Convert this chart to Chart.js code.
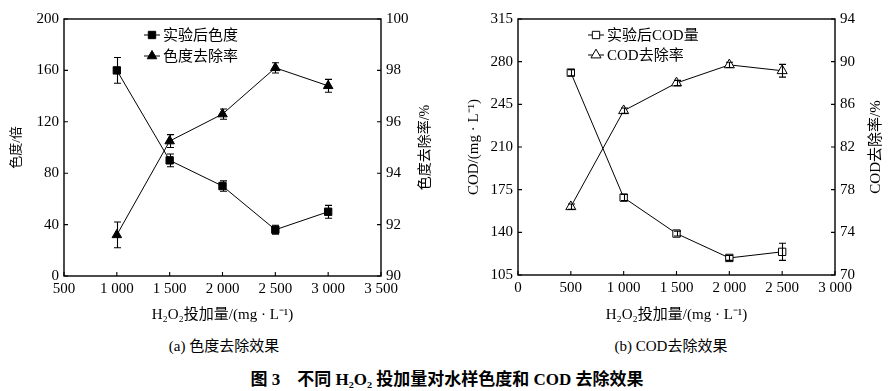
<!DOCTYPE html>
<html>
<head>
<meta charset="utf-8">
<script src="https://cdn.jsdelivr.net/npm/chart.js@4/dist/chart.umd.min.js"></script>
<style>
  body { margin: 0; background: #fff; }
  #wrap { position: relative; width: 892px; height: 391px; font-family: "Liberation Serif", "Noto Sans CJK SC", serif; color: #000; }
  .box { position: absolute; top: 0; width: 446px; height: 330px; }
  .cap { position: absolute; font-size: 15px; white-space: pre; transform: translate(-50%, -50%); }
  .title { position: absolute; font-size: 17px; font-weight: bold; white-space: pre; transform: translate(-50%, -50%); }
</style>
</head>
<body>
<div id="wrap">
  <div class="box" style="left:0"><canvas id="chartA" width="446" height="330"></canvas></div>
  <div class="box" style="left:446px"><canvas id="chartB" width="446" height="330"></canvas></div>
  <div class="cap" style="left:224px;top:344px">(a) 色度去除效果</div>
  <div class="cap" style="left:671px;top:344px">(b) COD去除效果</div>
  <div class="title" style="left:447px;top:377px">图 3    不同 H₂O₂ 投加量对水样色度和 COD 去除效果</div>
</div>
<script>
// (a) colour removal
const doseA = [1000, 1500, 2000, 2500, 3000];
const chromaA = [160, 90, 70, 36, 50];
const chromaErrA = [10, 5, 4, 3.5, 5];
const removalA = [91.6, 95.25, 96.3, 98.1, 97.4];
const removalErrA = [0.5, 0.25, 0.2, 0.2, 0.25];

// (b) COD removal
const doseB = [500, 1000, 1500, 2000, 2500];
const codB = [271, 168.5, 139, 119, 124];
const codErrB = [2.5, 2.5, 2, 2, 7];
const codRemovalB = [76.4, 85.4, 88, 89.7, 89.15];
const codRemovalErrB = [0.25, 0.25, 0.25, 0.25, 0.6];

const FONT = '"Liberation Serif", "Noto Sans CJK SC", serif';
Chart.defaults.font.family = FONT;
Chart.defaults.color = '#000';

function fmt(v) {
    return String(v).replace(/\B(?=(\d{3})+(?!\d))/g, ' ');
}

function pts(xs, ys) {
    return xs.map((x, i) => ({x: x, y: ys[i]}));
}

// frame, inward ticks, error bars, legend and right title
function extras(errs, leg, rightTitle) {
    return {
        id: 'extras',
        afterDatasetsDraw(chart) {
            const ctx = chart.ctx, a = chart.chartArea;
            ctx.save();
            ctx.strokeStyle = '#000';
            ctx.fillStyle = '#000';

            // error bars
            ctx.lineWidth = 1.1;
            chart.data.datasets.forEach((ds, i) => {
                const meta = chart.getDatasetMeta(i);
                const ys = chart.scales[ds.yAxisID];
                ds.data.forEach((p, j) => {
                    const x = Math.round(meta.data[j].x) + 0.5;
                    const t = ys.getPixelForValue(p.y + errs[i][j]);
                    const b = ys.getPixelForValue(p.y - errs[i][j]);
                    ctx.beginPath();
                    ctx.moveTo(x, t); ctx.lineTo(x, b);
                    ctx.moveTo(x - 3.5, t); ctx.lineTo(x + 3.5, t);
                    ctx.moveTo(x - 3.5, b); ctx.lineTo(x + 3.5, b);
                    ctx.stroke();
                });
            });

            // frame
            ctx.lineWidth = 1.4;
            ctx.strokeRect(a.left, a.top, a.right - a.left, a.bottom - a.top);

            // inward ticks
            ctx.lineWidth = 1.1;
            ctx.beginPath();
            chart.scales.x.ticks.forEach(t => {
                const px = chart.scales.x.getPixelForValue(t.value);
                ctx.moveTo(px, a.bottom); ctx.lineTo(px, a.bottom - 4);
            });
            chart.scales.y.ticks.forEach(t => {
                const py = chart.scales.y.getPixelForValue(t.value);
                ctx.moveTo(a.left, py); ctx.lineTo(a.left + 4, py);
            });
            chart.scales.y1.ticks.forEach(t => {
                const py = chart.scales.y1.getPixelForValue(t.value);
                ctx.moveTo(a.right, py); ctx.lineTo(a.right - 4, py);
            });
            ctx.stroke();

            // legend
            ctx.font = '15px ' + FONT;
            ctx.textBaseline = 'middle';
            ctx.textAlign = 'left';
            chart.data.datasets.forEach((ds, i) => {
                const y = a.top + leg.y0 + i * leg.dy;
                const x0 = a.left + leg.x;
                ctx.lineWidth = 1;
                ctx.beginPath();
                ctx.moveTo(x0, y); ctx.lineTo(x0 + 16, y);
                ctx.stroke();
                ctx.fillStyle = ds.pointBackgroundColor;
                Chart.helpers.drawPoint(ctx, {pointStyle: ds.pointStyle, radius: ds.pointRadius, borderWidth: 1}, x0 + 8, y);
                ctx.fillStyle = '#000';
                ctx.fillText(ds.label, x0 + 19, y + 1);
            });

            // right axis title, reading bottom to top
            ctx.save();
            ctx.font = rightTitle.size + 'px ' + FONT;
            ctx.textAlign = 'center';
            ctx.translate(rightTitle.x, (a.top + a.bottom) / 2);
            ctx.rotate(-Math.PI / 2);
            ctx.fillText(rightTitle.text, 0, 0);
            ctx.restore();

            ctx.restore();
        }
    };
}

function makeChart(id, cfg) {
    const fill = cfg.open ? '#fff' : '#000';
    const ds = (label, data, style, r, axis) => ({
        label: label,
        data: data,
        yAxisID: axis,
        borderColor: '#000',
        borderWidth: 1,
        pointStyle: style,
        pointRadius: r,
        pointBorderWidth: 1,
        pointBorderColor: '#000',
        pointBackgroundColor: fill,
        showLine: true,
        tension: 0
    });
    return new Chart(document.getElementById(id), {
        type: 'scatter',
        data: {
            datasets: [
                ds(cfg.labels[0], pts(cfg.dose, cfg.s1), 'rect', 5.2, 'y'),
                ds(cfg.labels[1], pts(cfg.dose, cfg.s2), 'triangle', cfg.open ? 5.8 : 5.5, 'y1')
            ]
        },
        options: {
            responsive: false,
            animation: false,
            layout: {padding: {top: 19, left: 0, right: 0, bottom: 0}},
            plugins: {legend: {display: false}, tooltip: {enabled: false}},
            scales: {
                x: {
                    type: 'linear',
                    min: cfg.xr[0], max: cfg.xr[1],
                    grid: {display: false, drawTicks: false},
                    border: {display: false},
                    ticks: {stepSize: 500, autoSkip: false, maxRotation: 0, padding: 4, font: {size: 15}, callback: v => fmt(v)},
                    title: {display: true, text: 'H₂O₂投加量/(mg · L⁻¹)', font: {size: 15}, padding: {top: 0, bottom: 6}},
                    afterFit: s => { s.height = cfg.xh; }
                },
                y: {
                    position: 'left',
                    min: cfg.yr[0], max: cfg.yr[1],
                    grid: {display: false, drawTicks: false},
                    border: {display: false},
                    ticks: {stepSize: cfg.yr[2], padding: 5, font: {size: 15}},
                    title: {display: true, text: cfg.yTitle, font: {size: cfg.yTitleSize}, padding: {top: cfg.yTitlePad, bottom: 0}},
                    afterFit: s => { s.width = cfg.yw; }
                },
                y1: {
                    position: 'right',
                    min: cfg.y1r[0], max: cfg.y1r[1],
                    grid: {display: false, drawTicks: false},
                    border: {display: false},
                    ticks: {stepSize: cfg.y1r[2], padding: 5, font: {size: 15}},
                    afterFit: s => { s.width = cfg.y1w; }
                }
            }
        },
        plugins: [extras(cfg.errs, cfg.leg, cfg.rightTitle)]
    });
}

makeChart('chartA', {
    open: false,
    labels: ['实验后色度', '色度去除率'],
    dose: doseA, s1: chromaA, s2: removalA,
    errs: [chromaErrA, removalErrA],
    xr: [500, 3500], yr: [0, 200, 40], y1r: [90, 100, 2],
    xh: 54, yw: 64, y1w: 65,
    yTitle: '色度/倍', yTitleSize: 13, yTitlePad: 9,
    leg: {x: 80, y0: 16, dy: 21},
    rightTitle: {text: '色度去除率/%', size: 14, x: 425}
});

makeChart('chartB', {
    open: true,
    labels: ['实验后COD量', 'COD去除率'],
    dose: doseB, s1: codB, s2: codRemovalB,
    errs: [codErrB, codRemovalErrB],
    xr: [0, 3000], yr: [105, 315, 35], y1r: [70, 94, 4],
    xh: 55, yw: 72, y1w: 57,
    yTitle: 'COD/(mg · L⁻¹)', yTitleSize: 15, yTitlePad: 19,
    leg: {x: 70, y0: 16, dy: 20},
    rightTitle: {text: 'COD去除率/%', size: 15, x: 430}
});
</script>
</body>
</html>
